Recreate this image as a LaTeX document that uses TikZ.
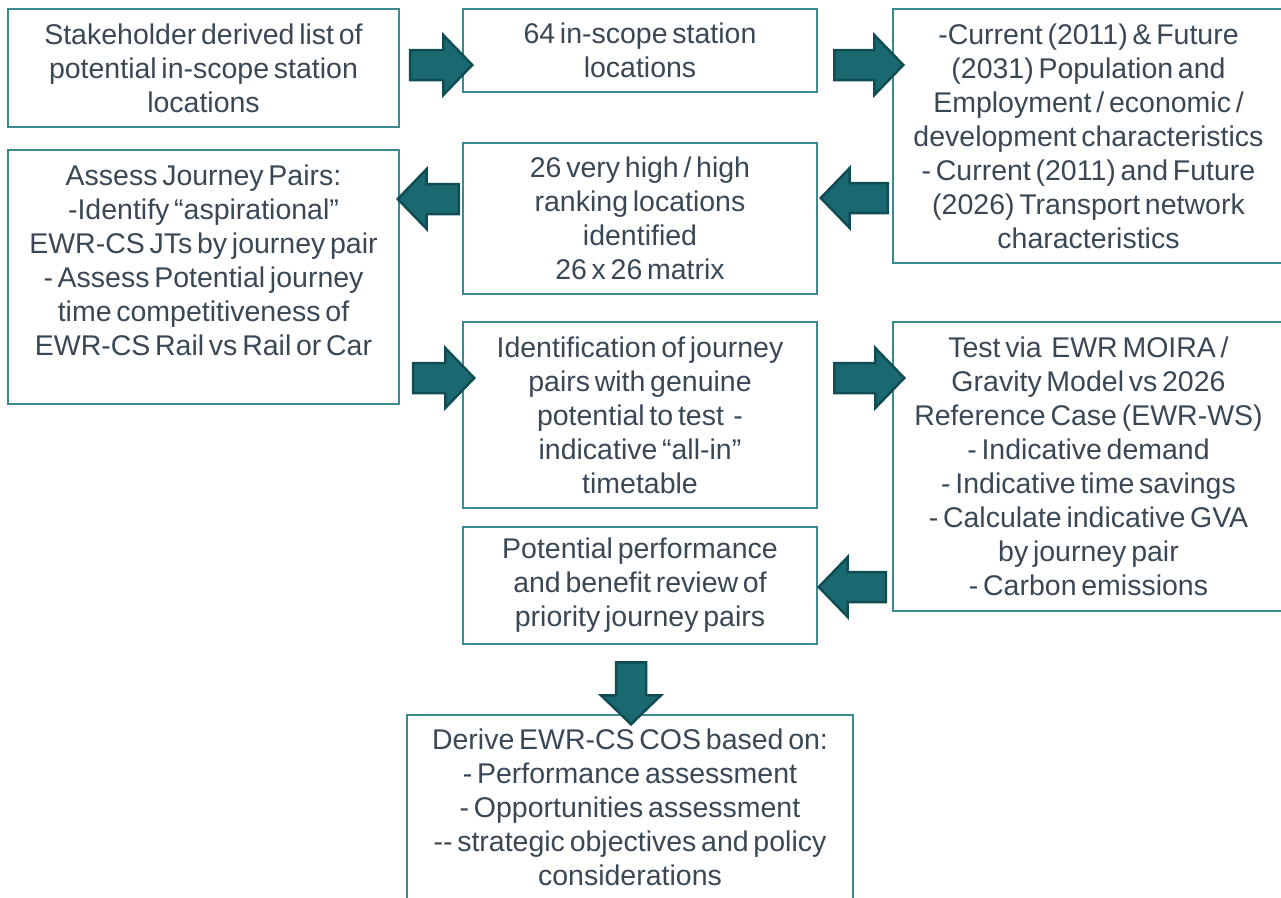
\documentclass[tikz,border=0pt]{standalone}
\usepackage{fontspec}
\setmainfont{Liberation Sans}[WordSpace=0.6]
\usetikzlibrary{shapes.arrows}
\definecolor{boxline}{HTML}{3B8A90}
\definecolor{txt}{HTML}{3A4856}
\definecolor{arrfill}{HTML}{1B6970}
\definecolor{arredge}{HTML}{0F4D53}
\tikzset{
  stepbox/.style={draw=boxline, line width=1.4pt, fill=white, align=center,
    text=txt, inner sep=0pt,
    font=\fontsize{28.5}{34}\selectfont},
  blockarrow/.style={single arrow, draw=arredge, fill=arrfill, line width=2.5pt,
    inner xsep=0pt, inner ysep=13.75pt, single arrow head extend=15pt,
    single arrow tip angle=92, minimum width=57.5pt},
}
\begin{document}
\begin{tikzpicture}[x=1pt, y=-1pt]
\useasboundingbox (0,0) rectangle (1281,897);

% process boxes
\node[stepbox, minimum width=391pt, minimum height=118pt] (A) at (203.5,68)
  {Stakeholder derived list of\\potential in-scope station\\locations};
\node[stepbox, minimum width=354pt, minimum height=83pt] (B) at (640,50.5)
  {64 in-scope station\\locations};
\node[stepbox, minimum width=391pt, minimum height=254pt] (C) at (1088.5,136)
  {-Current (2011) \& Future\\(2031) Population and\\Employment / economic /\\development characteristics\\- Current (2011) and Future\\(2026) Transport network\\characteristics};
\node[stepbox, minimum width=391pt, minimum height=254pt] (D) at (203.5,277)
  {Assess Journey Pairs:\\-Identify “aspirational”\\EWR-CS JTs by journey pair\\- Assess Potential journey\\time competitiveness of\\EWR-CS Rail vs Rail or Car\\\mbox{}};
\node[stepbox, minimum width=354pt, minimum height=151pt] (E) at (640,218.5)
  {26 very high / high\\ranking locations\\identified\\26 x 26 matrix};
\node[stepbox, minimum width=354pt, minimum height=186pt] (F) at (640,415)
  {Identification of journey\\pairs with genuine\\potential to test \ -\\indicative “all-in”\\timetable};
\node[stepbox, minimum width=391pt, minimum height=289pt] (G) at (1088.5,466.5)
  {Test via \ EWR MOIRA /\\Gravity Model vs 2026\\Reference Case (EWR-WS)\\- Indicative demand\\- Indicative time savings\\- Calculate indicative GVA\\by journey pair\\- Carbon emissions};
\node[stepbox, minimum width=354pt, minimum height=117pt] (H) at (640,585.5)
  {Potential performance\\and benefit review of\\priority journey pairs};
\node[stepbox, minimum width=446pt, minimum height=184pt] (I) at (630,807)
  {Derive EWR-CS COS based on:\\- Performance assessment\\- Opportunities assessment\\-{}- strategic objectives and policy\\considerations};

% block arrows between the boxes
\node[blockarrow, minimum height=62pt] (a1) at (434,65) {};
\node[blockarrow, minimum height=69pt] (a2) at (861.5,65) {};
\node[blockarrow, minimum height=67pt, rotate=180] (a3) at (861.5,198) {};
\node[blockarrow, minimum height=61pt, rotate=180] (a4) at (435.5,199) {};
\node[blockarrow, minimum height=61pt] (a5) at (436.5,378) {};
\node[blockarrow, minimum height=70pt] (a6) at (862,378) {};
\node[blockarrow, minimum height=67pt, rotate=180] (a7) at (859.5,587) {};
\node[blockarrow, minimum height=62pt, rotate=-90] (a8) at (631,686) {};
\end{tikzpicture}
\end{document}
